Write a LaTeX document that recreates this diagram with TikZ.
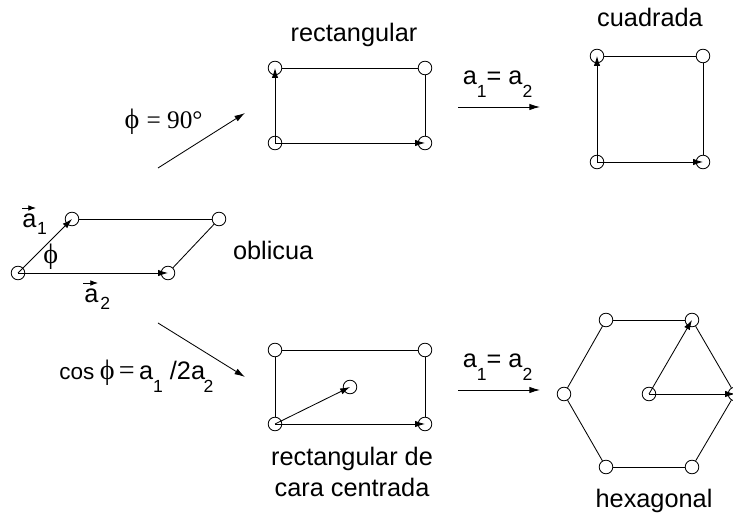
\documentclass[tikz,border=0pt]{standalone}
\usepackage{amsmath}
\usepackage{fontspec}
\setmainfont{Liberation Sans}
\newfontfamily\symfont{Liberation Serif}
\usepackage{tikz}
\usetikzlibrary{arrows.meta}
\newcommand{\subidx}[2][-9pt]{\raisebox{#1}{\fontsize{12.5}{12.5}\selectfont #2}}
\newcommand{\phisym}{{\symfont\fontsize{20}{20}\selectfont\char"03D5}}

\begin{document}
\begin{tikzpicture}[
    site/.style={circle, draw, fill=white, minimum size=0.34cm, inner sep=0pt, line width=0.6pt},
    label/.style={font=\fontsize{18}{22.7}\selectfont, align=center, inner sep=0pt},
    edge/.style={line width=0.6pt},
    vector/.style={-{Latex[length=7pt,width=4.5pt]}, line width=0.6pt},
    arrow/.style={-{Latex[length=7.5pt,width=4.5pt]}, line width=0.6pt},
    overarrow/.style={-{Latex[length=5.5pt,width=4pt]}, line width=0.6pt}
]
\useasboundingbox (0,0) rectangle (18.325,12.85);

% oblicua
\node[site] (o1) at (0.45,6.025) {};
\node[site] (o2) at (1.8,7.375) {};
\node[site] (o3) at (5.475,7.375) {};
\node[site] (o4) at (4.2,6.025) {};
\draw[edge] (o2) -- (o3);
\draw[edge] (o3) -- (o4);
\draw[vector] (o1.center) -- (o2.center);
\draw[vector] (o1.center) -- (o4.center);
\node[label, anchor=base west] (a1) at (0.55,7.15) {a\subidx[-4.5pt]{\kern0.5pt 1}};
\node[label, anchor=base west] (a2) at (2.1,5.275) {a\subidx[-4.5pt]{\kern1.5pt 2}};
\coordinate (v1a) at (0.55,7.65);
\coordinate (v1b) at (0.9,7.65);
\coordinate (v2a) at (2.08,5.775);
\coordinate (v2b) at (2.45,5.775);
\draw[overarrow] (v1a) -- (v1b);
\draw[overarrow] (v2a) -- (v2b);
\node[label] (phi) at (1.27,6.42) {\phisym};
\node[label] (oblicua) at (6.83,6.6) {oblicua};

% rectangular
\node[site] (r1) at (6.875,9.275) {};
\node[site] (r2) at (10.625,9.275) {};
\node[site] (r3) at (10.625,11.15) {};
\node[site] (r4) at (6.875,11.15) {};
\draw[edge] (r4) -- (r3);
\draw[edge] (r3) -- (r2);
\draw[vector] (r1.center) -- (r2.center);
\draw[vector] (r1.center) -- (r4.center);
\node[label] (rectangular) at (8.85,11.98) {rectangular};

% cuadrada
\node[site] (s1) at (14.925,8.8) {};
\node[site] (s2) at (17.575,8.8) {};
\node[site] (s3) at (17.575,11.45) {};
\node[site] (s4) at (14.925,11.45) {};
\draw[edge] (s4) -- (s3);
\draw[edge] (s3) -- (s2);
\draw[vector] (s1.center) -- (s2.center);
\draw[vector] (s1.center) -- (s4.center);
\node[label] (cuadrada) at (16.25,12.42) {cuadrada};

% rectangular de cara centrada
\node[site] (c1) at (6.875,2.25) {};
\node[site] (c2) at (10.625,2.25) {};
\node[site] (c3) at (10.625,4.1) {};
\node[site] (c4) at (6.875,4.1) {};
\node[site] (c5) at (8.75,3.175) {};
\draw[edge] (c4) -- (c3);
\draw[edge] (c3) -- (c2);
\draw[edge] (c1) -- (c4);
\draw[vector] (c1.center) -- (c2.center);
\draw[vector] (c1.center) -- (c5.center);
\node[label] (centrada) at (8.8,1.05) {rectangular de\\cara centrada};

% hexagonal
\node[site] (h0) at (16.225,3) {};
\node[site] (h1) at (18.375,3) {};
\node[site] (h2) at (17.3,4.85) {};
\node[site] (h3) at (15.15,4.85) {};
\node[site] (h4) at (14.1,3) {};
\node[site] (h5) at (15.15,1.175) {};
\node[site] (h6) at (17.3,1.175) {};
\draw[edge] (h1) -- (h2);
\draw[edge] (h2) -- (h3);
\draw[edge] (h3) -- (h4);
\draw[edge] (h4) -- (h5);
\draw[edge] (h5) -- (h6);
\draw[edge] (h6) -- (h1);
\draw[vector] (h0.center) -- (h1.center);
\draw[vector] (h0.center) -- (h2.center);
\node[label] (hexagonal) at (16.35,0.33) {hexagonal};

% transiciones
\coordinate (t1a) at (3.95,8.65);
\coordinate (t1b) at (6.125,10.025);
\coordinate (t2a) at (11.45,10.175);
\coordinate (t2b) at (13.5,10.175);
\coordinate (t3a) at (3.95,4.775);
\coordinate (t3b) at (6.125,3.425);
\coordinate (t4a) at (11.45,3.1);
\coordinate (t4b) at (13.5,3.1);
\draw[arrow] (t1a) -- (t1b);
\draw[arrow] (t2a) -- (t2b);
\draw[arrow] (t3a) -- (t3b);
\draw[arrow] (t4a) -- (t4b);
\node[label] (l1) at (4.09,9.8) {\phisym\ {\symfont = 90°}};
\node[label] (l2) at (12.44,10.75) {a\subidx{1}= a\subidx{2}};
\node[label] (l3) at (3.41,3.44) {{\fontsize{16}{16}\selectfont cos}\hspace{4pt}\phisym\hspace{3pt}{\symfont\fontsize{20}{20}\selectfont =}\hspace{3pt}a\subidx{1} /2a\subidx{\kern-1pt 2}};
\node[label] (l4) at (12.44,3.67) {a\subidx{1}= a\subidx{2}};
\end{tikzpicture}
\end{document}
